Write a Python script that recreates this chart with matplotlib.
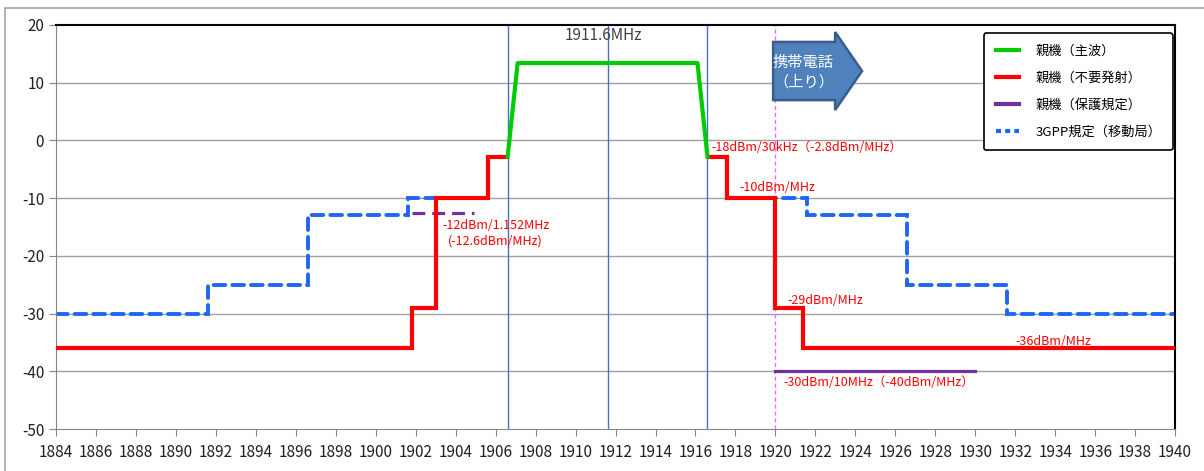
import matplotlib
matplotlib.use('Agg')
import matplotlib.pyplot as plt
from matplotlib.patches import Rectangle, FancyArrow
from matplotlib.lines import Line2D

plt.rcParams['font.family'] = ['Noto Sans CJK JP', 'DejaVu Sans']
plt.rcParams['axes.unicode_minus'] = False

# 親機（主波）
main_x = [1906.6, 1907.1, 1916.1, 1916.6]
main_y = [-2.8, 13.4, 13.4, -2.8]

# 親機（不要発射） step edges / levels
spur_l_edges = [1884, 1901.8, 1903.0, 1905.6, 1906.6]
spur_l_vals = [-36, -29, -10, -2.8]
spur_r_edges = [1916.6, 1917.6, 1920.0, 1921.4, 1940]
spur_r_vals = [-2.8, -10, -29, -36]

# 3GPP規定（移動局）
gpp_l_edges = [1884, 1891.6, 1896.6, 1901.6, 1905.6]
gpp_l_vals = [-30, -25, -13, -10]
gpp_r_edges = [1917.6, 1921.6, 1926.6, 1931.6, 1940]
gpp_r_vals = [-10, -13, -25, -30]

# 親機（保護規定）
prot_l_x = [1901.8, 1904.9]
prot_l_y = [-12.6, -12.6]
prot_r_x = [1920, 1930]
prot_r_y = [-40, -40]

band_lines = [1906.6, 1911.6, 1916.6]
uplink_edge = 1920

fig = plt.figure(figsize=(12.04, 4.71), dpi=100)
ax = fig.add_axes([0.0465, 0.089, 0.9295, 0.858])

fig.patches.append(Rectangle((5 / 1204, -0.1), 1.2, 1.1 - 8 / 471, transform=fig.transFigure,
                             fill=False, ec='#A6A6A6', lw=1.2))

ax.set_xlim(1884, 1940)
ax.set_ylim(-50, 20)
ax.set_xticks(range(1884, 1941, 2))
ax.set_yticks(range(-50, 21, 10))
for yv in range(-40, 20, 10):
    ax.axhline(yv, color='#A0A0A0', lw=1, zorder=0)

for s in ['left', 'bottom']:
    ax.spines[s].set_color('#868686')
for s in ['top', 'right']:
    ax.spines[s].set_color('black')
    ax.spines[s].set_linewidth(1.5)
ax.tick_params(axis='both', direction='out', length=5, color='#868686', labelsize=11,
               labelcolor='#202020')
ax.tick_params(axis='x', pad=6)

for xv in band_lines:
    ax.axvline(xv, color='#4472C4', lw=1, zorder=1)
ax.axvline(uplink_edge, color='#FF66FF', lw=1, ls=(0, (3, 2)), zorder=1)

blue = '#1F66F5'
for e, v in [(gpp_l_edges, gpp_l_vals), (gpp_r_edges, gpp_r_vals)]:
    sp = ax.stairs(v, e, baseline=None, color=blue, lw=2.8, ls=(0, (3.0, 1.8)), zorder=2)
    sp.set_capstyle('round')

ax.plot(prot_l_x, prot_l_y, color='#7030A0', lw=2.3, ls=(0, (4, 2.2)), zorder=2.5)
ax.plot(prot_r_x, prot_r_y, color='#7030A0', lw=2.3, zorder=2.5)

for e, v in [(spur_l_edges, spur_l_vals), (spur_r_edges, spur_r_vals)]:
    ax.stairs(v, e, baseline=None, color='#FF0000', lw=3, zorder=3)

ax.plot(main_x, main_y, color='#00CC00', lw=3, zorder=3)

red = '#FF0000'
fs = 9
ax.text(1911.4, 18.1, '1911.6MHz', ha='center', va='center', fontsize=11, color='#404040')
ax.text(1916.8, -1.3, '-18dBm/30kHz（-2.8dBm/MHz）', ha='left', va='center', fontsize=fs, color=red)
ax.text(1918.2, -8.2, '-10dBm/MHz', ha='left', va='center', fontsize=fs, color=red)
ax.text(1906.0, -16.1, '-12dBm/1.152MHz\n(-12.6dBm/MHz)', ha='center', va='center',
        fontsize=fs, color=red, linespacing=1.3)
ax.text(1920.6, -27.8, '-29dBm/MHz', ha='left', va='center', fontsize=fs, color=red)
ax.text(1932.0, -34.8, '-36dBm/MHz', ha='left', va='center', fontsize=fs, color=red)
ax.text(1920.4, -41.9, '-30dBm/10MHz（-40dBm/MHz）', ha='left', va='center', fontsize=fs, color=red)

# block arrow "携帯電話（上り）"
ax.add_patch(FancyArrow(0.6408, 0.886, 0.0795, 0, width=0.144, head_width=0.193,
                        head_length=0.0241, length_includes_head=True, transform=ax.transAxes,
                        fc='#4F81BD', ec='#385D8A', lw=1.8, zorder=5))
ax.text(0.668, 0.884, '携帯電話\n（上り）', ha='center', va='center', fontsize=11, color='white',
        linespacing=1.2, zorder=6, transform=ax.transAxes)

handles = [
    Line2D([], [], color='#00CC00', lw=3),
    Line2D([], [], color='#FF0000', lw=3),
    Line2D([], [], color='#7030A0', lw=3),
    Line2D([], [], color=blue, lw=3, ls=(0, (1.2, 1.0))),
]
labels = ['親機（主波）', '親機（不要発射）', '親機（保護規定）', '3GPP規定（移動局）']
leg = ax.legend(handles, labels, loc='upper right', bbox_to_anchor=(1.0, 0.985), fontsize=9.5,
                frameon=True, fancybox=True, edgecolor='black', framealpha=1,
                handlelength=1.8, labelspacing=1.05, borderpad=0.9, handletextpad=1.2,
                borderaxespad=0.15)
leg.get_frame().set_linewidth(1.2)
leg.set_zorder(7)

fig.savefig('out.png', dpi=100)
